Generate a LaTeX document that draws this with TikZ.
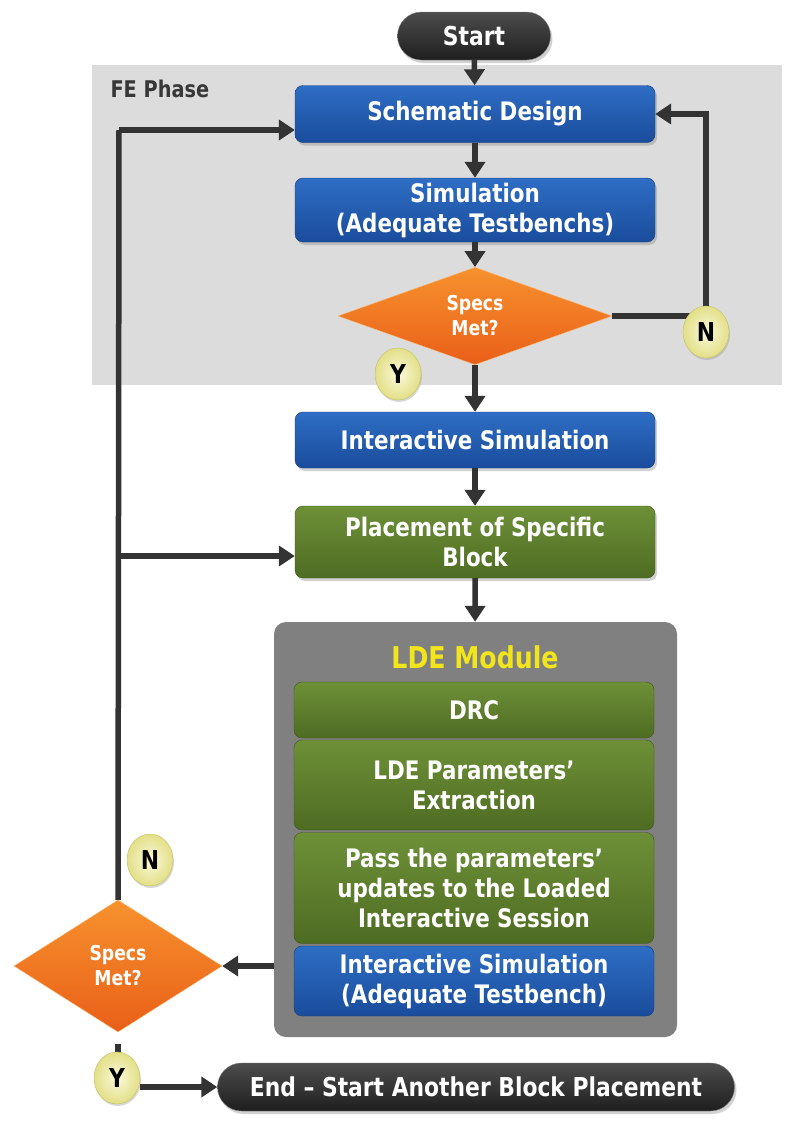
\documentclass[tikz,border=0pt]{standalone}
\usepackage{fontspec}
\setmainfont{DejaVu Sans}[FakeStretch=0.84]
\usepackage{tikz}
\usetikzlibrary{shapes.geometric, positioning, arrows.meta, shadows}
\definecolor{FlowLine}{HTML}{333333}
\definecolor{BlueTop}{HTML}{2E6EC4}
\definecolor{BlueBot}{HTML}{1A4C9C}
\definecolor{GreenTop}{HTML}{6E9038}
\definecolor{GreenBot}{HTML}{4E6C22}
\definecolor{OrangeTop}{HTML}{F7922E}
\definecolor{OrangeBot}{HTML}{E95F18}
\definecolor{PhaseGray}{HTML}{DCDCDC}
\definecolor{ModuleGray}{HTML}{808080}
\definecolor{TitleYellow}{HTML}{F2E61A}
\definecolor{BadgeFill}{HTML}{F4F0A0}

\begin{document}
\begin{tikzpicture}[x=1pt, y=-1pt,
    block/.style={rounded corners=8, minimum width=360, inner sep=0pt, align=center,
                  text=white, font=\fontsize{25.5}{30}\selectfont\bfseries,
                  drop shadow={shadow xshift=2pt, shadow yshift=-3pt, opacity=.35}},
    blueblock/.style={block, top color=BlueTop, bottom color=BlueBot, draw=BlueBot!80!black, thin},
    greenblock/.style={block, top color=GreenTop, bottom color=GreenBot, draw=GreenBot!80!black, thin},
    terminal/.style={rounded corners=24, minimum height=48, inner sep=0pt, text=white,
                     top color=black!70, bottom color=black!88, draw=black!50, thin,
                     font=\fontsize{26}{30}\selectfont\bfseries,
                     drop shadow={shadow xshift=2pt, shadow yshift=-3pt, opacity=.35}},
    decision/.style={diamond, inner sep=0pt, align=center, text=white,
                     top color=OrangeTop, bottom color=OrangeBot, draw=OrangeTop!70!white, thin,
                     font=\fontsize{20.5}{25}\selectfont\bfseries},
    badge/.style={ellipse, minimum width=46, minimum height=52, inner sep=0pt,
                  inner color=BadgeFill!40!white, outer color=BadgeFill!85!olive, draw=BadgeFill!60!olive,
                  font=\fontsize{26}{28}\selectfont\bfseries,
                  drop shadow={shadow xshift=1pt, shadow yshift=-2pt, opacity=.3}},
    arr/.style={draw=FlowLine, line width=5.5pt, -{Triangle[length=16pt, width=20pt]}},
    link/.style={draw=FlowLine, line width=5.5pt}]

    \useasboundingbox (0,0) rectangle (800,1135);
    \fill[white] (0,0) rectangle (800,1135);

    % FE phase region
    \fill[PhaseGray] (92,65) rectangle (782,385);
    \node[anchor=west, text=black!78, font=\fontsize{23}{26}\selectfont\bfseries] (fe) at (107,89) {FE Phase};

    % Main flow
    \node[terminal, minimum width=153] (start) at (474,36) {Start};
    \node[blueblock, minimum height=57] (sch) at (475,114) {Schematic Design};
    \node[blueblock, minimum height=64] (sim) at (475,210) {Simulation\\(Adequate Testbenchs)};
    \node[decision, minimum width=274, minimum height=82] (dia1) at (475,316) {Specs\\Met?};
    \node[blueblock, minimum height=56] (isim) at (475,440) {Interactive Simulation};
    \node[greenblock, minimum height=72] (place) at (475,542) {Placement of Specific\\Block};

    % LDE module
    \node[rounded corners=12, fill=ModuleGray, minimum width=403, minimum height=415] (lde) at (475.5,829.5) {};
    \node[text=TitleYellow, font=\fontsize{30}{32}\selectfont\bfseries] (ldetitle) at (475,657) {LDE Module};
    \node[greenblock, minimum height=56] (drc) at (474,710) {DRC};
    \node[greenblock, minimum height=90] (extr) at (474,785) {LDE Parameters’\\Extraction};
    \node[greenblock, minimum height=111] (pass) at (474,888) {Pass the parameters’\\updates to the Loaded\\Interactive Session};
    \node[blueblock, minimum height=70] (isim2) at (474,981) {Interactive Simulation\\(Adequate Testbench)};

    % Second check and end
    \node[decision, minimum width=208, minimum height=132] (dia2) at (118,966) {Specs\\Met?};
    \node[terminal, minimum width=517] (endn) at (476,1087) {End – Start Another Block Placement};

    \coordinate (loop) at (119,130);
    \coordinate (branch) at (119,556);

    % Connectors
    \draw[arr] (start) -- (sch);
    \draw[arr] (sch) -- (sim);
    \draw[arr] (sim) -- (dia1);
    \draw[arr] (dia1.east) -- ++(94,0) |- (sch.east);
    \draw[arr] (dia1) -- (isim);
    \draw[arr] (isim) -- (place);
    \draw[arr] (place) -- (lde);
    \draw[arr] (lde.west |- dia2.east) -- (dia2.east);
    \draw[link] (dia2.north) -- (loop);
    \draw[arr] (loop) -- (loop -| sch.west);
    \draw[arr] (branch) -- (branch -| place.west);
    \draw[link, shorten <=12pt] (dia2.south) -- ++(0,40);

    % Y / N badges
    \node[badge] (n1) at (706,332) {N};
    \node[badge] (y1) at (398,374) {Y};
    \node[badge] (n2) at (150,860) {N};
    \node[badge] (y2) at (117,1078) {Y};
    \draw[arr] (y2.east |- endn.west) -- (endn.west);
\end{tikzpicture}
\end{document}
